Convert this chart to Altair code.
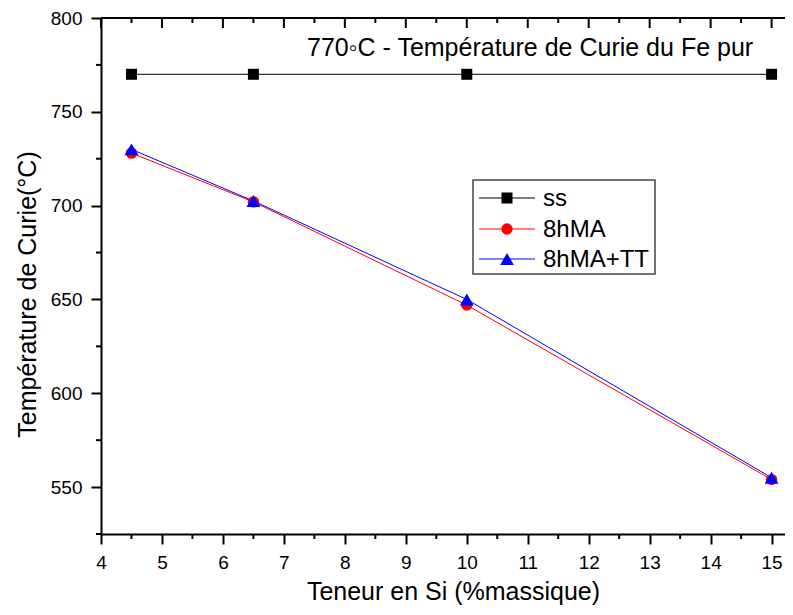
import altair as alt
import pandas as pd

# ---- data ----
si = [4.5, 6.5, 10, 15]
temp_ss = [770, 770, 770, 770]
temp_8hma = [728, 702, 647, 554]
temp_8hma_tt = [730, 702.5, 650, 555]

series_names = ["ss", "8hMA", "8hMA+TT"]
series_colors = ["#000000", "#ff0000", "#0000ff"]
series_shapes = ["square", "circle", "triangle-up"]
series_sizes = [121, 130, 190]

x_major = [4, 5, 6, 7, 8, 9, 10, 11, 12, 13, 14, 15]
x_minor = [4.5, 5.5, 6.5, 7.5, 8.5, 9.5, 10.5, 11.5, 12.5, 13.5, 14.5]
y_major = [550, 600, 650, 700, 750, 800]
y_minor = [525, 575, 625, 675, 725, 775]

annotation = "770\u25e6C - Température de Curie du Fe pur"
x_title = "Teneur en Si (%massique)"
y_title = "Température de Curie(°C)"

# ---- layout ----
W, H = 684, 516
FONT = "Liberation Sans"

df = pd.DataFrame({
    "si": si * 3,
    "temp": temp_ss + temp_8hma + temp_8hma_tt,
    "serie": [n for n in series_names for _ in si],
})

xscale = alt.Scale(domain=[4, 15.22], nice=False, zero=False)
yscale = alt.Scale(domain=[525, 800], nice=False, zero=False)

xaxis = alt.Axis(
    values=x_major, title=x_title, grid=False,
    tickSize=10, tickWidth=2, tickColor="black",
    domainWidth=2, domainColor="black",
    labelFont=FONT, labelFontSize=19, labelColor="black",
    labelBaseline="alphabetic", labelPadding=24, labelFlush=False,
    titleFont=FONT, titleFontSize=25, titleFontWeight="normal", titleColor="black",
    titleX=352, titleY=65, titleBaseline="alphabetic", titleAlign="center",
)
yaxis = alt.Axis(
    values=y_major, title=y_title, grid=False,
    tickSize=10, tickWidth=2, tickColor="black",
    domainWidth=2, domainColor="black",
    labelFont=FONT, labelFontSize=19, labelColor="black",
    labelPadding=9, labelFlush=False,
    titleFont=FONT, titleFontSize=25, titleFontWeight="normal", titleColor="black",
    titleX=-66, titleY=276, titleAngle=270, titleBaseline="alphabetic", titleAlign="center",
)

base = alt.Chart(df).encode(
    x=alt.X("si:Q", scale=xscale, axis=xaxis),
    y=alt.Y("temp:Q", scale=yscale, axis=yaxis),
)

layers = []
for name, col in zip(series_names, series_colors):
    layers.append(base.transform_filter(alt.datum.serie == name)
                  .mark_line(color=col, strokeWidth=1))
for name, col, shp, sz in zip(series_names, series_colors, series_shapes, series_sizes):
    layers.append(base.transform_filter(alt.datum.serie == name)
                  .mark_point(color=col, fill=col, filled=True, opacity=1, shape=shp, size=sz))

# ---- minor ticks and mirrored top axis ----
xmaj = pd.DataFrame({"v": x_major})
xmin = pd.DataFrame({"v": x_minor})
ymin = pd.DataFrame({"v": y_minor})

XV = alt.X("v:Q", scale=xscale, axis=xaxis)
YV = alt.Y("v:Q", scale=yscale, axis=yaxis)

layers.append(alt.Chart(xmin).mark_rule(color="black", strokeWidth=2).encode(
    x=XV, y=alt.value(H), y2=alt.value(H + 5)))
layers.append(alt.Chart(ymin).mark_rule(color="black", strokeWidth=2).encode(
    y=YV, x=alt.value(-5), x2=alt.value(0)))
layers.append(alt.Chart(xmaj).mark_rule(color="black", strokeWidth=2).encode(
    x=XV, y=alt.value(0), y2=alt.value(10)))
layers.append(alt.Chart(xmin).mark_rule(color="black", strokeWidth=2).encode(
    x=XV, y=alt.value(0), y2=alt.value(5)))
one = pd.DataFrame({"k": [0]})
layers.append(alt.Chart(one).mark_rule(color="black", strokeWidth=2).encode(
    x=alt.value(0), x2=alt.value(W), y=alt.value(0)))

# ---- annotation ----
layers.append(alt.Chart(pd.DataFrame({"t": [annotation]})).mark_text(
    align="left", baseline="middle", font=FONT, fontSize=25, color="black").encode(
    x=alt.value(206), y=alt.value(30), text="t:N"))

# ---- legend ----
LX0, LX1, LY0, LY1 = 372, 554, 162, 256
row_y = [180, 211, 241]
layers.append(alt.Chart(one).mark_rect(fill="white", stroke="#444444", strokeWidth=1.5).encode(
    x=alt.value(LX0), x2=alt.value(LX1), y=alt.value(LY0), y2=alt.value(LY1)))
for name, col, shp, sz, ry in zip(series_names, series_colors, series_shapes, series_sizes, row_y):
    layers.append(alt.Chart(one).mark_rule(color=col, strokeWidth=1).encode(
        x=alt.value(378), x2=alt.value(434), y=alt.value(ry)))
    layers.append(alt.Chart(one).mark_point(color=col, fill=col, filled=True, opacity=1,
                                             shape=shp, size=sz).encode(
        x=alt.value(406), y=alt.value(ry)))
    layers.append(alt.Chart(pd.DataFrame({"t": [name]})).mark_text(
        align="left", baseline="middle", font=FONT, fontSize=24, color="black").encode(
        x=alt.value(442), y=alt.value(ry + 1), text="t:N"))

chart = alt.layer(*layers).properties(
    width=W, height=H,
    autosize=alt.AutoSizeParams(type="none"),
    padding={"left": 93, "top": 10, "right": 0, "bottom": 73},
).configure_view(stroke=None).configure(background="white")

chart.save("out.html", embed_options={"renderer": "svg", "actions": False})
